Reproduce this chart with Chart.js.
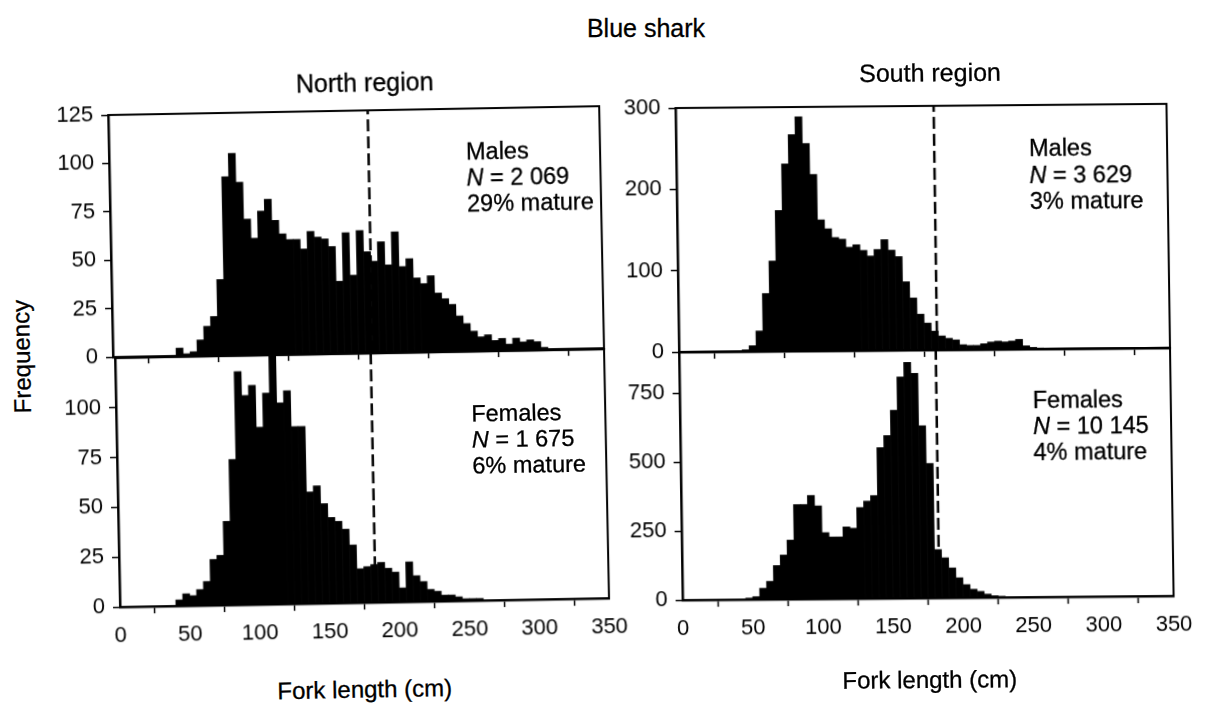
<!DOCTYPE html>
<html>
<head>
<meta charset="utf-8">
<title>Blue shark</title>
<script src="https://cdn.jsdelivr.net/npm/chart.js@4.4.1/dist/chart.umd.min.js"></script>
<style>
  html, body { margin: 0; padding: 0; background: #fff; }
  #page {
    position: relative; width: 1212px; height: 707px; overflow: hidden; background: #fff;
    font-family: "Liberation Sans", Arial, sans-serif; color: #000;
  }
  /* the two halves of the printed figure are slightly sheared */
  .half { position: absolute; left: 0; top: 0; width: 1212px; height: 707px; }
  #north { transform-origin: 113px 357px; transform: matrix(1, -0.018, 0.020, 1, 0, 0); }
  #south { transform-origin: 679px 352px; transform: matrix(1, -0.0085, 0.0145, 1, 0, 0); }
  .half canvas { position: absolute; }
  .centered { position: absolute; white-space: nowrap; transform: translate(-50%, -50%); -webkit-text-stroke: 0.3px #000; }
  .title { font-size: 25px; }
  .region { font-size: 25px; }
  .axis-title { font-size: 24px; }
  .note { position: absolute; white-space: nowrap; font-size: 23.5px; line-height: 26px; -webkit-text-stroke: 0.3px #000; }
</style>
</head>
<body>
<div id="page">
  <div class="centered title" style="left:646px; top:28px;">Blue shark</div>

  <div id="north" class="half">
    <canvas id="northMales" width="587" height="274" style="left:41px; top:101px;"></canvas>
    <canvas id="northFemales" width="585" height="303" style="left:43px; top:344px;"></canvas>
    <div class="centered region" style="left:370px; top:87px;">North region</div>
    <div class="centered axis-title" style="left:22px; top:355px; transform: translate(-50%, -50%) rotate(-90deg);">Frequency</div>
    <div class="centered axis-title" style="left:358px; top:694px;">Fork length (cm)</div>
    <div class="note" style="left:470px; top:145px;">Males<br><i>N</i> = 2 069<br>29% mature</div>
    <div class="note" style="left:470px; top:407px;">Females<br><i>N</i> = 1 675<br>6% mature</div>
  </div>

  <div id="south" class="half">
    <canvas id="southMales" width="587" height="276" style="left:607px; top:94px;"></canvas>
    <canvas id="southFemales" width="587" height="302" style="left:607px; top:338px;"></canvas>
    <div class="centered region" style="left:934px; top:75px;">South region</div>
    <div class="centered axis-title" style="left:925px; top:682px;">Fork length (cm)</div>
    <div class="note" style="left:1032px; top:138px; line-height:26.7px;">Males<br><i>N</i> = 3 629<br>3% mature</div>
    <div class="note" style="left:1032px; top:390px;">Females<br><i>N</i> = 10 145<br>4% mature</div>
  </div>
</div>

<script>
// Lower edge of each 5 cm fork-length class (cm)
var lengthClasses = [
  40, 45, 50, 55, 60, 65, 70, 75, 80, 85,
  90, 95, 100, 105, 110, 115, 120, 125, 130, 135,
  140, 145, 150, 155, 160, 165, 170, 175, 180, 185,
  190, 195, 200, 205, 210, 215, 220, 225, 230, 235,
  240, 245, 250, 255, 260, 265, 270, 275, 280, 285,
  290, 295, 300, 305
];

// Counts per length class
var northMales = [
  0, 4, 1, 2, 8, 15, 20, 39, 92, 104,
  89, 70, 60, 74, 80, 69, 62, 59, 59, 54,
  63, 60, 59, 55, 37, 62, 40, 63, 52, 47,
  57, 45, 62, 44, 48, 38, 35, 39, 30, 27,
  24, 18, 14, 10, 7, 8, 5, 6, 3, 6,
  4, 5, 4, 1
];
var northFemales = [
  3, 6, 5, 8, 12, 23, 25, 42, 73, 117,
  105, 110, 89, 106, 132, 101, 107, 89, 89, 56,
  59, 50, 43, 41, 37, 29, 17, 18, 19, 20,
  17, 15, 7, 20, 13, 10, 6, 5, 3, 3,
  2, 1, 1, 1, 0, 0, 0, 0, 0, 0,
  0, 0, 0, 0
];
var southMales = [
  0, 2, 7, 25, 71, 111, 173, 230, 266, 288,
  255, 217, 161, 150, 139, 137, 127, 130, 123, 116,
  124, 136, 123, 115, 84, 64, 44, 33, 23, 17,
  14, 12, 6, 5, 5, 7, 9, 10, 9, 10,
  12, 4, 2, 1, 0, 0, 0, 0, 0, 0,
  0, 0, 0, 0
];
var southFemales = [
  0, 5, 10, 40, 65, 122, 160, 214, 343, 343,
  375, 337, 240, 224, 224, 260, 255, 330, 353, 373,
  547, 590, 682, 803, 855, 815, 625, 488, 175, 145,
  108, 72, 47, 30, 22, 12, 6, 4, 2, 1,
  0, 0, 0, 0, 0, 0, 0, 0, 0, 0,
  0, 0, 0, 0
];

// Length at maturity (cm), dashed line in each panel
var maturityNorthMales = 185;
var maturityNorthFemales = 183;
var maturitySouthMales = 184;
var maturitySouthFemales = 183;

var classWidth = 5;

var tickFont = { family: '"Liberation Sans", Arial, sans-serif', size: 22 };

// box around the plot area (top and right sides; axes draw the others)
var framePlugin = {
  id: 'frame',
  afterDatasetsDraw: function (chart) {
    var a = chart.chartArea;
    var c = chart.ctx;
    c.save();
    c.strokeStyle = '#000';
    c.lineWidth = 2;
    c.beginPath();
    c.moveTo(a.left, a.top);
    c.lineTo(a.right, a.top);
    c.lineTo(a.right, a.bottom);
    c.stroke();
    c.restore();
  }
};

function makePanel(id, counts, maturity, yMax, yStep, yLastLabel, showXLabels) {
  var bars = lengthClasses.map(function (start, i) {
    return { x: start + classWidth / 2, y: counts[i] };
  });
  var tickGrid = { display: true, drawOnChartArea: false, drawTicks: true, tickLength: 7, tickWidth: 1.5, tickColor: '#000' };

  return new Chart(document.getElementById(id), {
    data: {
      datasets: [{
        type: 'line',
        data: [{ x: maturity, y: 0 }, { x: maturity, y: yMax }],
        borderColor: '#000',
        borderWidth: 2.5,
        borderDash: [12, 5],
        pointRadius: 0,
        order: 0
      }, {
        type: 'bar',
        data: bars,
        backgroundColor: '#000',
        borderWidth: 0,
        barPercentage: 1,
        categoryPercentage: 1,
        order: 1
      }]
    },
    options: {
      responsive: false,
      animation: false,
      layout: { padding: { top: 14, right: 24, left: 0, bottom: showXLabels ? 0 : 8 } },
      plugins: { legend: { display: false }, tooltip: { enabled: false } },
      scales: {
        x: {
          type: 'linear',
          min: 0,
          max: 350,
          offset: false,
          ticks: { stepSize: 50, display: showXLabels, font: tickFont, color: '#000', padding: 9, maxRotation: 0 },
          grid: tickGrid,
          border: { display: true, color: '#000', width: 2.5 },
          afterFit: function (scale) {
            scale.height = showXLabels ? 40 : 10;
            scale.paddingLeft = 0;
            scale.paddingRight = 0;
          }
        },
        y: {
          type: 'linear',
          min: 0,
          max: yMax,
          ticks: { stepSize: yStep, font: tickFont, color: '#000', padding: 8 },
          grid: tickGrid,
          border: { display: true, color: '#000', width: 2.5 },
          afterBuildTicks: function (scale) {
            scale.ticks = scale.ticks.filter(function (t) { return t.value <= yLastLabel; });
          },
          afterFit: function (scale) {
            scale.width = 72;
            scale.paddingTop = 0;
            scale.paddingBottom = 0;
          }
        }
      }
    },
    plugins: [framePlugin]
  });
}

makePanel('northMales', northMales, maturityNorthMales, 125, 25, 125, false);
makePanel('northFemales', northFemales, maturityNorthFemales, 125, 25, 100, true);
makePanel('southMales', southMales, maturitySouthMales, 300, 100, 300, false);
makePanel('southFemales', southFemales, maturitySouthFemales, 900, 250, 750, true);
</script>
</body>
</html>
